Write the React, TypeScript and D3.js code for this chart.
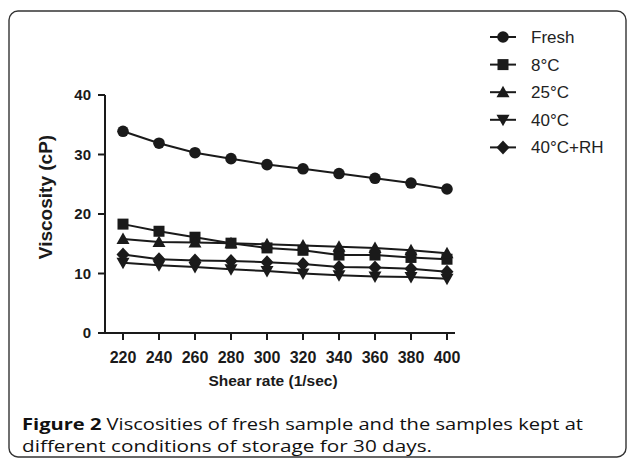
import * as d3 from 'd3';

const shearRates = [220, 240, 260, 280, 300, 320, 340, 360, 380, 400];
const fresh = [33.9, 31.9, 30.3, 29.3, 28.3, 27.6, 26.8, 26.0, 25.2, 24.2];
const c8 = [18.3, 17.1, 16.1, 15.1, 14.3, 13.9, 13.1, 13.1, 12.7, 12.4];
const c25 = [15.8, 15.3, 15.2, 15.1, 14.9, 14.7, 14.5, 14.3, 13.9, 13.4];
const c40 = [11.8, 11.4, 11.1, 10.7, 10.4, 10.0, 9.7, 9.5, 9.4, 9.1];
const c40rh = [13.2, 12.4, 12.2, 12.1, 11.9, 11.6, 11.1, 11.0, 10.8, 10.3];
const yTicks = [0, 10, 20, 30, 40];

const series = [
  { name: 'Fresh', values: fresh, shape: 'circle' },
  { name: '8°C', values: c8, shape: 'square' },
  { name: '25°C', values: c25, shape: 'up' },
  { name: '40°C', values: c40, shape: 'down' },
  { name: '40°C+RH', values: c40rh, shape: 'diamond' },
];

const ink = '#1a1a1a';

const Marker = ({ shape, x, y }) => {
  if (shape === 'circle') return <circle cx={x} cy={y} r={5.8} fill={ink} />;
  if (shape === 'square') return <rect x={x - 5.5} y={y - 5.5} width={11} height={11} fill={ink} />;
  if (shape === 'up')
    return <path d={`M${x},${y - 6.5}L${x + 6.5},${y + 5}L${x - 6.5},${y + 5}Z`} fill={ink} />;
  if (shape === 'down')
    return <path d={`M${x},${y + 6.5}L${x + 6.5},${y - 5}L${x - 6.5},${y - 5}Z`} fill={ink} />;
  return <path d={`M${x},${y - 7}L${x + 6.5},${y}L${x},${y + 7}L${x - 6.5},${y}Z`} fill={ink} />;
};

export default function App() {
  const x = d3.scaleLinear().domain([220, 400]).range([123, 447]);
  const y = d3.scaleLinear().domain([0, 40]).range([333, 95]);
  const line = d3
    .line<number>()
    .x((_, i) => x(shearRates[i]))
    .y((d) => y(d));

  const axisFont = 'Liberation Sans, Arial, sans-serif';

  return (
    <svg
      width={629}
      height={459}
      style={{ position: 'absolute', left: 0, top: 0, background: '#fff' }}
    >
      <rect x={9} y={11} width={617} height={446} rx={9} fill="none" stroke="#333" strokeWidth={1.4} />

      {/* axes */}
      <g stroke={ink} strokeWidth={2} fill="none">
        <line x1={105} x2={105} y1={y(40)} y2={y(0) + 1} />
        <line x1={104} x2={455} y1={y(0)} y2={y(0)} />
        {yTicks.map((t) => (
          <line key={t} x1={98} x2={105} y1={y(t)} y2={y(t)} />
        ))}
        {shearRates.map((s) => (
          <line key={s} x1={x(s)} x2={x(s)} y1={y(0)} y2={y(0) + 7} />
        ))}
      </g>
      {yTicks.map((t) => (
        <text
          key={t}
          x={91}
          y={y(t) + 5}
          textAnchor="end"
          fontFamily={axisFont}
          fontWeight="bold"
          fontSize={15}
          fill={ink}
        >
          {t}
        </text>
      ))}
      {shearRates.map((s) => (
        <text
          key={s}
          x={x(s)}
          y={363}
          textAnchor="middle"
          fontFamily={axisFont}
          fontWeight="bold"
          fontSize={16}
          fill={ink}
        >
          {s}
        </text>
      ))}
      <text
        x={273}
        y={386}
        textAnchor="middle"
        fontFamily={axisFont}
        fontWeight="bold"
        fontSize={15.5}
        fill={ink}
      >
        Shear rate (1/sec)
      </text>
      <text
        transform={`translate(52,197) rotate(-90)`}
        textAnchor="middle"
        fontFamily={axisFont}
        fontWeight="bold"
        fontSize={19}
        fill={ink}
      >
        Viscosity (cP)
      </text>

      {/* series */}
      {series.map((s) => (
        <g key={s.name}>
          <path d={line(s.values)} fill="none" stroke={ink} strokeWidth={2} />
          {s.values.map((v, i) => (
            <Marker key={i} shape={s.shape} x={x(shearRates[i])} y={y(v)} />
          ))}
        </g>
      ))}

      {/* legend */}
      {series.map((s, i) => {
        const ly = 37 + i * 27.6;
        return (
          <g key={s.name}>
            <line x1={490} x2={516} y1={ly} y2={ly} stroke={ink} strokeWidth={2} />
            <Marker shape={s.shape} x={503} y={ly} />
            <text x={531} y={ly + 6} fontFamily={axisFont} fontSize={17} fill="#222">
              {s.name}
            </text>
          </g>
        );
      })}

      {/* caption */}
      <g fontFamily="Open Sans, sans-serif" fontSize={16.5} fill="#111">
        <text x={22} y={430} textLength={561} lengthAdjust="spacingAndGlyphs">
          <tspan fontWeight="bold">Figure 2</tspan> Viscosities of fresh sample and the samples kept at
        </text>
        <text x={22} y={452} textLength={410} lengthAdjust="spacingAndGlyphs">
          different conditions of storage for 30 days.
        </text>
      </g>
    </svg>
  );
}
